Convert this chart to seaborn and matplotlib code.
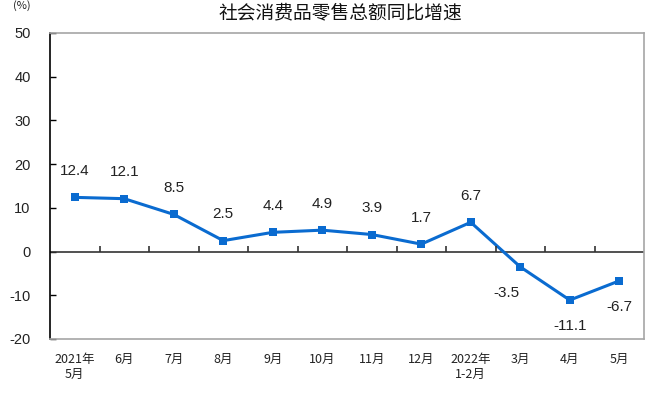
import numpy as np
import pandas as pd
import seaborn as sns
import matplotlib.pyplot as plt

# ================= 数据 =================
months = ['2021年\n5月', '6月', '7月', '8月', '9月', '10月', '11月', '12月',
          '2022年\n1-2月', '3月', '4月', '5月']
growth = [12.4, 12.1, 8.5, 2.5, 4.4, 4.9, 3.9, 1.7, 6.7, -3.5, -11.1, -6.7]
y_ticks = [-20, -10, 0, 10, 20, 30, 40, 50]

df = pd.DataFrame({'month': months, 'growth': growth})

sns.set_style('white')
plt.rcParams['font.family'] = ['Noto Sans CJK SC', 'DejaVu Sans']

BLUE = '#0A6BD0'
GREY = '#A6A6A6'

fig = plt.figure(figsize=(6.70, 3.96), dpi=100)
ax = fig.add_axes([50 / 670, 1 - 339 / 396, 594 / 670, 306 / 396])

sns.lineplot(data=df, x='month', y='growth', ax=ax, sort=False, color=BLUE,
             linewidth=2.2, marker='s', markersize=6, markeredgewidth=0)

ax.set_xlim(-0.5, len(months) - 0.5)
ax.set_ylim(-20, 50)
ax.set_yticks(y_ticks)
ax.set_yticklabels([str(v) for v in y_ticks], family=['Liberation Sans', 'DejaVu Sans'],
                   fontsize=10.5, color='#222222')
ax.set_xticks(range(len(months)))
ax.set_xticklabels(months, fontsize=9, linespacing=1.25, color='#222222')
ax.tick_params(axis='x', length=0, pad=10)
ax.tick_params(axis='y', direction='in', length=4, width=1, color='black', pad=14, left=True)
ax.set_xlabel('')
ax.set_ylabel('')

for s in ['top', 'right', 'bottom']:
    ax.spines[s].set_color(GREY)
    ax.spines[s].set_linewidth(1.2)
ax.spines['left'].set_color('black')
ax.spines['left'].set_linewidth(1.2)

# 零线及其刻度
ax.axhline(0, color='#333333', linewidth=1.2, zorder=1)
ax0 = ax.twiny()
ax0.set_xlim(ax.get_xlim())
ax0.spines['bottom'].set_position(('data', 0))
ax0.spines['bottom'].set_visible(False)
for s in ['top', 'right', 'left']:
    ax0.spines[s].set_visible(False)
ax0.xaxis.set_ticks_position('bottom')
ax0.set_xticks(np.arange(0.5, len(months) - 1, 1))
ax0.set_xticklabels([])
ax0.tick_params(axis='x', direction='in', length=4, width=1.2, color='#333333')

# 数据标签
for i, v in enumerate(growth):
    dx = -10 if i == 9 else 0
    dy = 19 if v > 0 else -19
    ax.annotate(f'{v:.1f}', (i, v), xytext=(dx, dy), textcoords='offset points',
                ha='center', va='center', fontsize=11, color='#222222',
                family=['Liberation Sans', 'DejaVu Sans'])

fig.text(340 / 670, 1 - 13 / 396, '社会消费品零售总额同比增速', ha='center', va='center',
         fontsize=13.5, color='#111111')
fig.text(22 / 670, 1 - 6 / 396, '(%)', ha='center', va='center', fontsize=8, color='#222222')

fig.savefig('out.png', dpi=100)
